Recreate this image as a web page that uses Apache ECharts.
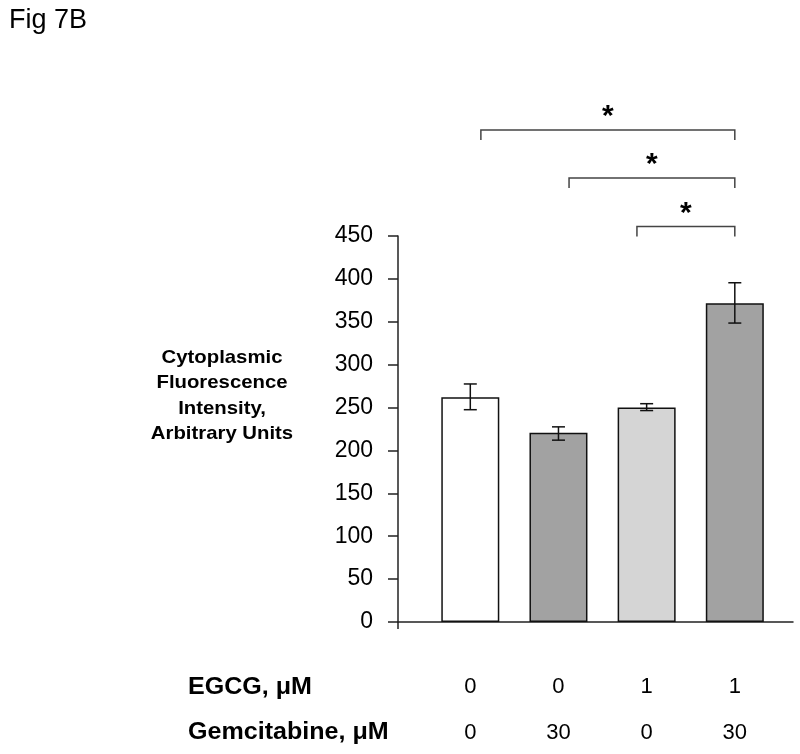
<!DOCTYPE html>
<html>
<head>
<meta charset="utf-8">
<script src="https://cdn.jsdelivr.net/npm/echarts@6/dist/echarts.min.js"></script>
<style>
html,body{margin:0;padding:0;background:#fff;}
#chart{width:800px;height:754px;}
</style>
</head>
<body>
<div id="chart"></div>
<script>
// ---- data ----
const groupPositions = [1, 2, 3, 4];
const egcgDose = ['0', '0', '1', '1'];
const gemcitabineDose = ['0', '30', '0', '30'];
const intensity = [262, 220.5, 250, 371.5];
const errLow = [247.5, 212, 246.5, 348.5];
const errHigh = [277.5, 227.5, 254.5, 395.5];
const yMin = 0, yMax = 450, yInterval = 50;
const xMin = 0.18, xMax = 4.66;
const bracketFrom = [1.12, 2.12, 2.89];
const bracketTo = [4, 4, 4];
const bracketLevel = [573.5, 517.5, 461];
const bracketMark = ['*', '*', '*'];
const barColors = ['#ffffff', '#a2a2a2', '#d5d5d5', '#a2a2a2'];
const rowHeaders = ['EGCG, \u03bcM', 'Gemcitabine, \u03bcM'];
const yTitle = ['Cytoplasmic', 'Fluorescence', 'Intensity,', 'Arbitrary Units'];

const FONT = '"Liberation Sans", Arial, sans-serif';
const chart = echarts.init(document.getElementById('chart'), null, {renderer: 'canvas'});

const option = {
  animation: false,
  backgroundColor: '#fff',
  title: {
    text: 'Fig 7B', left: 4, top: 2,
    textStyle: {fontFamily: FONT, fontSize: 27, fontWeight: 'normal', color: '#000'}
  },
  grid: {left: 398, right: 7, top: 236, bottom: 132, containLabel: false},
  xAxis: [
    {
      type: 'value', min: xMin, max: xMax,
      axisLine: {show: true, lineStyle: {color: '#222', width: 1.5}},
      axisTick: {show: true, customValues: [xMin], length: 7, lineStyle: {color: '#222', width: 1.5}},
      splitLine: {show: false},
      axisLabel: {
        show: true, customValues: groupPositions, margin: 54,
        formatter: v => egcgDose[groupPositions.indexOf(Math.round(v))],
        fontFamily: FONT, fontSize: 22, color: '#000'
      }
    },
    {
      type: 'value', min: xMin, max: xMax, position: 'bottom', offset: 0,
      axisLine: {show: false}, axisTick: {show: false}, splitLine: {show: false},
      axisLabel: {
        show: true, customValues: groupPositions, margin: 100,
        formatter: v => gemcitabineDose[groupPositions.indexOf(Math.round(v))],
        fontFamily: FONT, fontSize: 22, color: '#000'
      }
    }
  ],
  yAxis: {
    type: 'value', min: yMin, max: yMax, interval: yInterval,
    axisLine: {show: true, lineStyle: {color: '#222', width: 1.5}},
    axisTick: {show: true, length: 10, lineStyle: {color: '#222', width: 1.5}},
    splitLine: {show: false},
    axisLabel: {margin: 25, fontFamily: FONT, fontSize: 23, color: '#000'}
  },
  graphic: [
    {
      type: 'text', x: 222, y: 396, scaleX: 1.07,
      style: {
        text: yTitle.join('\n'), font: 'bold 19px ' + FONT, fill: '#000',
        align: 'center', verticalAlign: 'middle', lineHeight: 25.5
      }
    },
    {
      type: 'text', x: 188, y: 688, scaleX: 1.09,
      style: {text: rowHeaders[0], font: 'bold 23px ' + FONT, fill: '#000', align: 'left', verticalAlign: 'middle'}
    },
    {
      type: 'text', x: 188, y: 733, scaleX: 1.09,
      style: {text: rowHeaders[1], font: 'bold 23px ' + FONT, fill: '#000', align: 'left', verticalAlign: 'middle'}
    }
  ],
  series: [
    {
      type: 'bar', xAxisIndex: 0, barWidth: 58, z: 2,
      itemStyle: {borderColor: '#111', borderWidth: 1.5},
      data: intensity.map((v, i) => ({value: [groupPositions[i], v], itemStyle: {color: barColors[i]}}))
    },
    {
      type: 'custom', xAxisIndex: 0, z: 5, clip: false,
      data: intensity.map((v, i) => [groupPositions[i], errLow[i], errHigh[i]]),
      encode: {x: 0, y: [1, 2]},
      renderItem: function (params, api) {
        const lo = api.coord([api.value(0), api.value(1)]);
        const hi = api.coord([api.value(0), api.value(2)]);
        const hw = 6.5;
        const st = {stroke: '#111', lineWidth: 1.5};
        return {
          type: 'group', children: [
            {type: 'line', shape: {x1: lo[0], y1: lo[1], x2: hi[0], y2: hi[1]}, style: st},
            {type: 'line', shape: {x1: lo[0] - hw, y1: lo[1], x2: lo[0] + hw, y2: lo[1]}, style: st},
            {type: 'line', shape: {x1: hi[0] - hw, y1: hi[1], x2: hi[0] + hw, y2: hi[1]}, style: st}
          ]
        };
      }
    },
    {
      type: 'custom', xAxisIndex: 0, z: 5, clip: false,
      data: bracketFrom.map((f, i) => [f, bracketTo[i], bracketLevel[i]]),
      encode: {x: [0, 1], y: 2},
      renderItem: function (params, api) {
        const a = api.coord([api.value(0), api.value(2)]);
        const b = api.coord([api.value(1), api.value(2)]);
        const drop = 10;
        return {
          type: 'group', children: [
            {
              type: 'polyline',
              shape: {points: [[a[0], a[1] + drop], [a[0], a[1]], [b[0], b[1]], [b[0], b[1] + drop]]},
              style: {stroke: '#444', lineWidth: 1.5, fill: null}
            },
            {
              type: 'text', x: (a[0] + b[0]) / 2, y: a[1] - 13,
              style: {text: bracketMark[params.dataIndex], font: 'bold 30px ' + FONT, fill: '#000', align: 'center', verticalAlign: 'middle'}
            }
          ]
        };
      }
    }
  ]
};
chart.setOption(option);
</script>
</body>
</html>
